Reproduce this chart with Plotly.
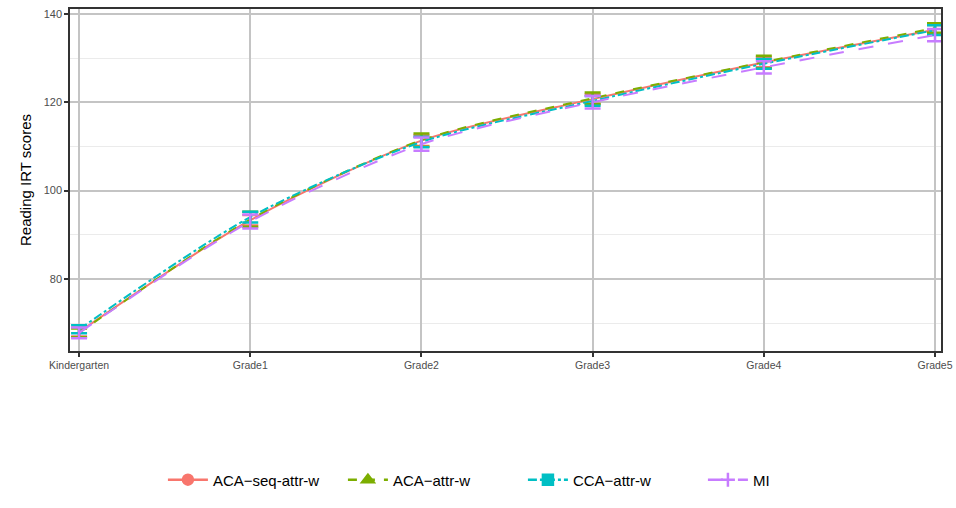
import plotly.graph_objects as go

grades = ["Kindergarten", "Grade1", "Grade2", "Grade3", "Grade4", "Grade5"]
series_names = ["ACA\u2212seq-attr-w", "ACA\u2212attr-w", "CCA\u2212attr-w", "MI"]

aca_seq = [68.0, 93.3, 111.3, 120.7, 129.0, 136.4]
aca_attr = [67.8, 93.5, 111.4, 120.9, 129.1, 136.8]
cca_attr = [68.6, 94.0, 111.0, 120.3, 128.7, 136.3]
mi = [67.8, 93.0, 110.5, 120.0, 127.9, 135.2]

aca_seq_err = [1.0, 1.2, 1.2, 1.1, 1.1, 1.1]
aca_attr_err = [1.0, 1.7, 1.5, 1.3, 1.4, 1.1]
cca_attr_err = [0.9, 1.2, 1.2, 1.1, 1.1, 1.1]
mi_err = [1.2, 1.6, 1.5, 1.4, 1.4, 1.4]

colors = ["#F8766D", "#7CAE00", "#00BFC4", "#C77CFF"]
dashes = ["solid", "dash", "dashdot", "longdash"]
symbols = ["circle", "triangle-up", "square", "cross-thin"]
values = [aca_seq, aca_attr, cca_attr, mi]
errors = [aca_seq_err, aca_attr_err, cca_attr_err, mi_err]

xs = list(range(len(grades)))

fig = go.Figure()
for name, col, dsh, sym, v, e in zip(series_names, colors, dashes, symbols, values, errors):
    fig.add_trace(go.Scatter(
        x=xs, y=v, mode="lines", name=name, showlegend=False,
        line=dict(color=col, width=2, dash=dsh, shape="spline", smoothing=0.8),
        error_y=dict(type="data", array=e, visible=True, color=col, thickness=2.5, width=8),
    ))
for name, col, dsh, sym in zip(series_names, colors, dashes, symbols):
    fig.add_trace(go.Scatter(
        x=[None], y=[None], mode="lines+markers", name=name, showlegend=True,
        line=dict(color=col, width=2.5, dash=dsh),
        marker=dict(color=col, size=10, symbol=sym, line=dict(color=col, width=2.5)),
    ))

fig.update_layout(
    width=956, height=508,
    margin=dict(l=70, r=15, t=9, b=157, autoexpand=False),
    paper_bgcolor="white", plot_bgcolor="white",
    font=dict(family="Liberation Sans, Arial, sans-serif", color="#000000"),
    showlegend=True,
    legend=dict(orientation="h", x=0.52, xanchor="center", y=-0.377, yanchor="middle",
                font=dict(size=15, color="#000000"), itemwidth=40, entrywidth=125,
                traceorder="normal"),
    xaxis=dict(
        automargin=False, ticklabeloverflow="allow",
        range=[-0.053, 5.035], tickmode="array", tickvals=xs, ticktext=grades,
        showgrid=True, gridcolor="#C4C4C4", gridwidth=2,
        ticks="outside", ticklen=4, tickwidth=1.5, tickcolor="#333333",
        tickfont=dict(size=10.5, color="#4D4D4D"),
        showline=True, linecolor="#333333", linewidth=1.5, mirror=True, zeroline=False,
    ),
    yaxis=dict(
        automargin=False, ticklabeloverflow="allow",
        range=[63.7, 141.1], tickmode="array", tickvals=[80, 100, 120, 140],
        showgrid=True, gridcolor="#C4C4C4", gridwidth=2,
        minor=dict(tickmode="array", tickvals=[70, 90, 110, 130], showgrid=True,
                   gridcolor="#EBEBEB", gridwidth=1, ticks=""),
        ticks="outside", ticklen=4, tickwidth=1.5, tickcolor="#333333",
        tickfont=dict(size=11, color="#4D4D4D"),
        title=dict(text="Reading IRT scores", font=dict(size=15, color="#000000"), standoff=8),
        showline=True, linecolor="#333333", linewidth=1.5, mirror=True, zeroline=False,
    ),
)

fig.write_html(
    "out.html",
    config={"displayModeBar": False},
    post_script="document.body.style.margin='0';document.body.style.overflow='hidden';",
)
